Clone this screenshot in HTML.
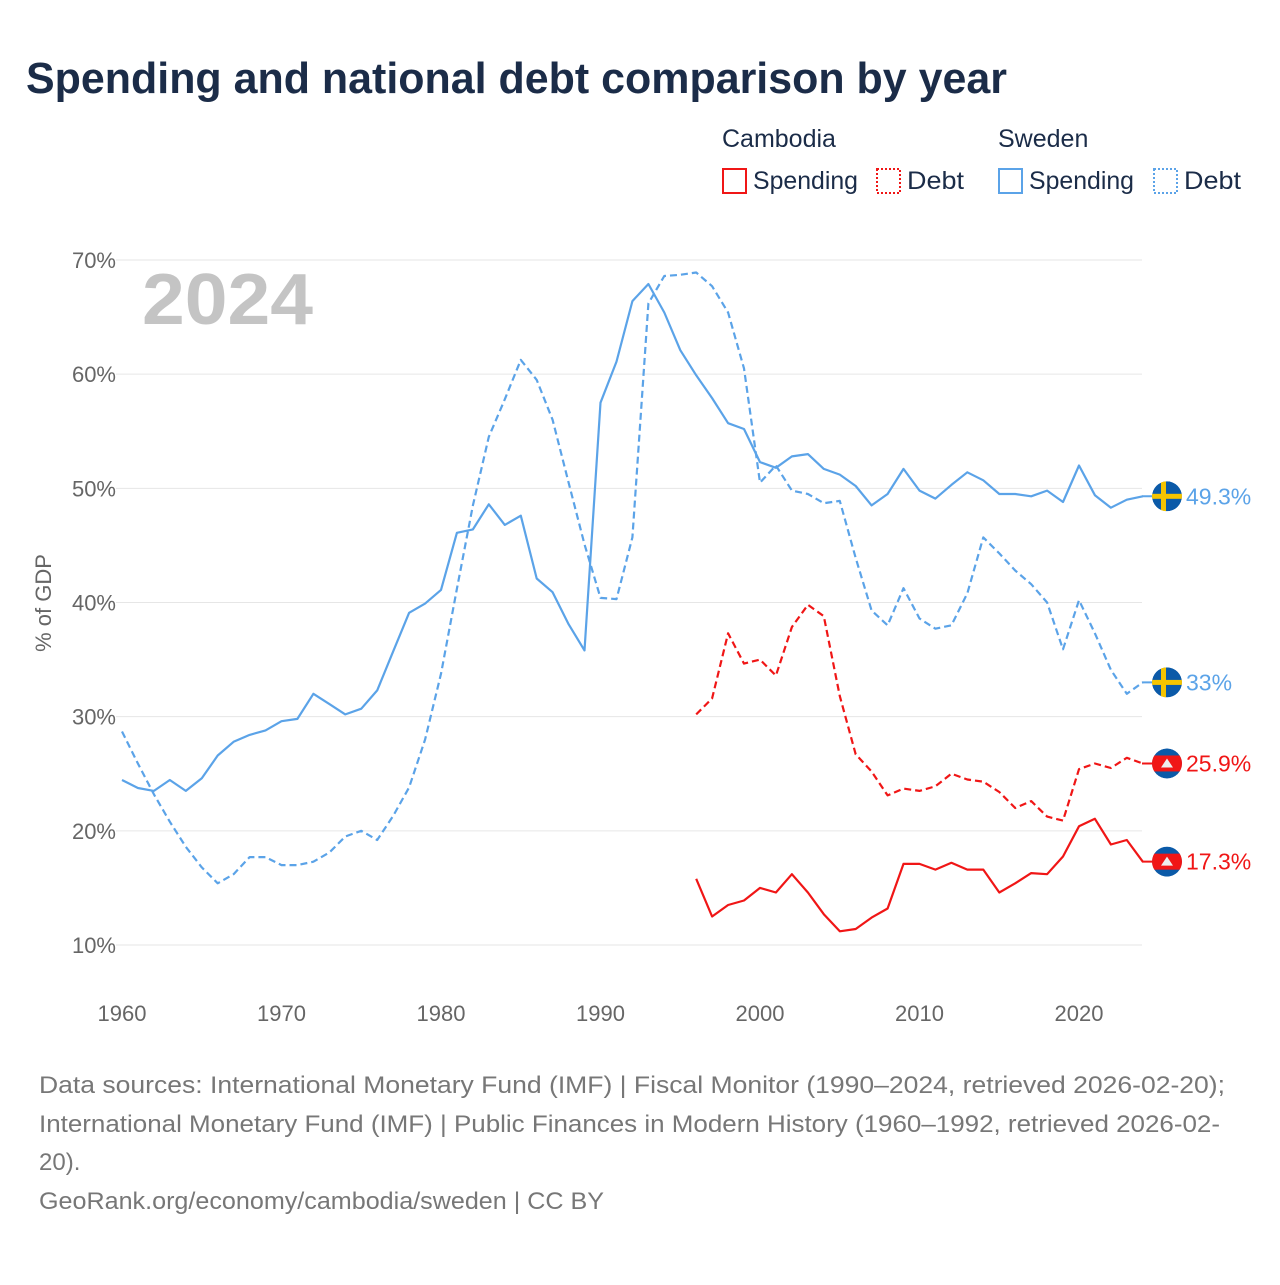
<!DOCTYPE html>
<html><head><meta charset="utf-8"><style>
body{margin:0;background:#fff;width:1280px;height:1280px;overflow:hidden;font-family:"Liberation Sans",sans-serif}
</style></head><body>
<svg id="chart" width="1280" height="1280" xmlns="http://www.w3.org/2000/svg">
<defs><clipPath id="fc"><circle cx="0" cy="0" r="15"/></clipPath></defs>
<text x="26" y="93" font-size="44" font-weight="bold" fill="#1b2c48" textLength="981" lengthAdjust="spacingAndGlyphs">Spending and national debt comparison by year</text>
<g font-size="25" fill="#1b2c48">
<text x="722" y="147">Cambodia</text>
<text x="998" y="147">Sweden</text>
<g><rect x="723" y="169" width="23" height="24" fill="none" stroke="#f01616" stroke-width="2"/><text x="753" y="189" textLength="105" lengthAdjust="spacingAndGlyphs">Spending</text></g>
<g><rect x="877" y="169" width="23" height="24" fill="none" stroke="#f01616" stroke-width="2" stroke-dasharray="2 2"/><text x="907" y="189" textLength="57" lengthAdjust="spacingAndGlyphs">Debt</text></g>
<g><rect x="999" y="169" width="23" height="24" fill="none" stroke="#5ba3e8" stroke-width="2"/><text x="1029" y="189" textLength="105" lengthAdjust="spacingAndGlyphs">Spending</text></g>
<g><rect x="1154" y="169" width="23" height="24" fill="none" stroke="#5ba3e8" stroke-width="2" stroke-dasharray="2 2"/><text x="1184" y="189" textLength="57" lengthAdjust="spacingAndGlyphs">Debt</text></g>
</g>
<text x="142" y="324" font-size="72" font-weight="bold" fill="#c4c4c4" textLength="171" lengthAdjust="spacingAndGlyphs">2024</text>
<text transform="translate(51,603) rotate(-90)" text-anchor="middle" font-size="22" fill="#666">% of GDP</text>
<g id="grid"></g><g id="series"></g><g id="ends"></g>
<g font-size="24" fill="#777">
<text x="39" y="1093" textLength="1186" lengthAdjust="spacingAndGlyphs">Data sources: International Monetary Fund (IMF) | Fiscal Monitor (1990–2024, retrieved 2026-02-20);</text>
<text x="39" y="1132" textLength="1181" lengthAdjust="spacingAndGlyphs">International Monetary Fund (IMF) | Public Finances in Modern History (1960–1992, retrieved 2026-02-</text>
<text x="39" y="1170">20).</text>
<text x="39" y="1209" textLength="565" lengthAdjust="spacingAndGlyphs">GeoRank.org/economy/cambodia/sweden | CC BY</text>
</g>
</svg>
<script>
const yTicks=[10,20,30,40,50,60,70];
const xTicks=[1960,1970,1980,1990,2000,2010,2020];
const sweStartYear=1960;
const swedenSpending=[24.45,23.75,23.5,24.45,23.5,24.6,26.6,27.8,28.4,28.8,29.6,29.8,32.0,31.1,30.2,30.7,32.3,35.7,39.1,39.9,41.1,46.1,46.4,48.6,46.8,47.6,42.1,40.9,38.1,35.8,57.5,61.1,66.4,67.9,65.4,62.1,59.9,57.9,55.7,55.2,52.3,51.8,52.8,53.0,51.7,51.2,50.2,48.5,49.5,51.7,49.8,49.1,50.3,51.4,50.7,49.5,49.5,49.3,49.8,48.8,52.0,49.4,48.3,49.0,49.3];
const swedenDebt=[28.7,25.9,23.2,20.8,18.6,16.8,15.4,16.2,17.7,17.7,17.0,17.0,17.3,18.1,19.5,20.0,19.2,21.3,23.8,28.0,33.75,41.2,48.5,54.5,57.8,61.25,59.5,56.0,50.5,45.1,40.4,40.3,45.7,66.2,68.6,68.7,68.9,67.7,65.4,60.5,50.5,52.0,49.8,49.5,48.7,48.9,43.9,39.3,38.0,41.25,38.6,37.7,38.0,40.8,45.7,44.3,42.8,41.6,40.0,35.9,40.2,37.3,34.1,32.0,33.0];
const camStartYear=1996;
const cambodiaSpending=[15.8,12.5,13.5,13.9,15.0,14.6,16.2,14.6,12.7,11.2,11.4,12.4,13.2,17.1,17.1,16.6,17.2,16.6,16.6,14.6,15.4,16.3,16.2,17.75,20.4,21.05,18.8,19.2,17.3];
const cambodiaDebt=[30.2,31.6,37.3,34.65,35.0,33.6,37.85,39.8,38.8,31.8,26.7,25.2,23.1,23.7,23.5,23.9,25.0,24.5,24.3,23.4,22.0,22.6,21.25,20.9,25.4,25.9,25.5,26.4,25.9];
const endLabels=["49.3%","33%","25.9%","17.3%"];

const NS="http://www.w3.org/2000/svg";
const X=yr=>122+(yr-1960)*15.95;
const Y=v=>945-(v-10)*11.417;
function mk(tag,attrs,parent){const e=document.createElementNS(NS,tag);for(const k in attrs)e.setAttribute(k,attrs[k]);parent.appendChild(e);return e;}
const grid=document.getElementById('grid'),ser=document.getElementById('series'),ends=document.getElementById('ends');
yTicks.forEach(t=>{
  const l=mk('line',{x1:116,x2:1142,y1:Y(t),y2:Y(t),stroke:'#e6e6e6','stroke-width':1},grid);
  
  
  const tx=mk('text',{x:116,y:Y(t)+8,'text-anchor':'end','font-size':22,fill:'#666'},grid);
  tx.textContent=t+'%';
  
  
});
xTicks.forEach(t=>{
  const tx=mk('text',{x:X(t),y:1021,'text-anchor':'middle','font-size':22,fill:'#666'},grid);
  tx.textContent=t;
  
  
});
function line(vals,start,color,dash,name){
  const d=vals.map((v,i)=>(i?'L':'M')+X(start+i).toFixed(1)+' '+Y(v).toFixed(1)).join(' ');
  const p=mk('path',{d:d,fill:'none',stroke:color,'stroke-width':2.2,'stroke-linejoin':'round'},ser);
  if(dash)p.setAttribute('stroke-dasharray','7 4');
  
  
}
const BLUE='#5ba3e8',RED='#f01616';
line(swedenSpending,sweStartYear,BLUE,false,'line-sweden-spending');
line(swedenDebt,sweStartYear,BLUE,true,'line-sweden-debt');
line(cambodiaSpending,camStartYear,RED,false,'line-cambodia-spending');
line(cambodiaDebt,camStartYear,RED,true,'line-cambodia-debt');
function flag(cy,country,label,color,name){
  const g=mk('g',{},ends);
  
  
  const cx=1167;
  mk('line',{x1:1142,x2:cx,y1:cy,y2:cy,stroke:color,'stroke-width':2},g);
  const f=mk('g',{transform:`translate(${cx},${cy})`,'clip-path':'url(#fc)'},g);
  mk('circle',{cx:0,cy:0,r:15,fill:'#0b5aa8'},f);
  if(country==='se'){
    mk('rect',{x:-15,y:-2.5,width:30,height:5,fill:'#f5c400'},f);
    mk('rect',{x:-6,y:-15,width:5,height:30,fill:'#f5c400'},f);
  }else{
    mk('rect',{x:-15,y:-8,width:30,height:16,fill:'#f01616'},f);
    mk('path',{d:'M-6 4 L0 -5 L6 4 Z',fill:'#eee'},f);
  }
  const t=mk('text',{x:1186,y:cy+8,'font-size':23,fill:color},g);
  t.textContent=label;
}
flag(Y(swedenSpending[swedenSpending.length-1]),'se',endLabels[0],BLUE,'end-label-sweden-spending');
flag(Y(swedenDebt[swedenDebt.length-1]),'se',endLabels[1],BLUE,'end-label-sweden-debt');
flag(Y(cambodiaDebt[cambodiaDebt.length-1]),'kh',endLabels[2],RED,'end-label-cambodia-debt');
flag(Y(cambodiaSpending[cambodiaSpending.length-1]),'kh',endLabels[3],RED,'end-label-cambodia-spending');
</script>
</body></html>
